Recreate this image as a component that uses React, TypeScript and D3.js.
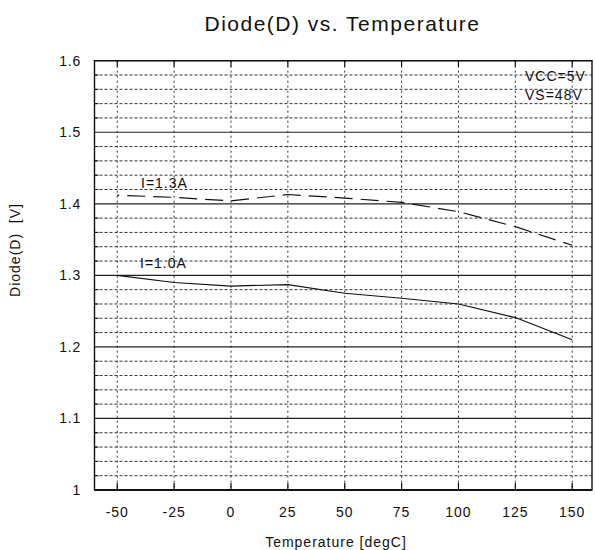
import React from "react";
import * as d3 from "d3";

const temps = [-50, -25, 0, 25, 50, 75, 100, 125, 150];
const seriesI10 = [1.3, 1.29, 1.285, 1.287, 1.275, 1.268, 1.26, 1.241, 1.21];
const seriesI13 = [1.412, 1.409, 1.404, 1.413, 1.408, 1.402, 1.389, 1.368, 1.342];
const xTicks = [-50, -25, 0, 25, 50, 75, 100, 125, 150];
const yMajor = [1, 1.1, 1.2, 1.3, 1.4, 1.5, 1.6];
const yTickLabels = ["1", "1.1", "1.2", "1.3", "1.4", "1.5", "1.6"];
const yMinor = d3.range(0, 31).map((i) => +(1 + i * 0.02).toFixed(2)).filter((v) => Math.abs(v * 10 - Math.round(v * 10)) > 1e-6);

const W = 595, H = 550;
const L = 94.5, R = 592, T = 60.7, B = 490;
const FONT = "'Liberation Sans', Arial, Helvetica, sans-serif";

export default function App() {
  const x = d3.scaleLinear().domain([-60, 158.7]).range([L, R]);
  const y = d3.scaleLinear().domain([1.0, 1.6]).range([B, T]);
  const line = d3.line<number>().x((_, i) => x(temps[i])).y((d) => y(d));

  return (
    <svg width={W} height={H} style={{ position: "absolute", left: 0, top: 0, background: "#fff" }} fontFamily={FONT}>
      <rect x={0} y={0} width={W} height={H} fill="#fff" />
      <text x={342.5} y={31} textAnchor="middle" fontSize={21} letterSpacing={1.5} fill="#111">Diode(D) vs. Temperature</text>

      {/* minor horizontal grid */}
      {yMinor.map((v) => (
        <line key={"mn" + v} x1={L} x2={R} y1={y(v)} y2={y(v)} stroke="#333" strokeWidth={1} strokeDasharray="3,2" />
      ))}
      {/* vertical grid */}
      {xTicks.map((t) => (
        <line key={"vg" + t} x1={x(t)} x2={x(t)} y1={T} y2={B} stroke="#333" strokeWidth={1} strokeDasharray="2,3" />
      ))}
      {/* major horizontal grid */}
      {yMajor.map((v) => (
        <line key={"mj" + v} x1={L} x2={R} y1={y(v)} y2={y(v)} stroke="#222" strokeWidth={1.2} />
      ))}
      {/* tick marks */}
      {xTicks.map((t) => (
        <g key={"tk" + t}>
          <line x1={x(t)} x2={x(t)} y1={T} y2={T + 6} stroke="#111" strokeWidth={1.2} />
          <line x1={x(t)} x2={x(t)} y1={B} y2={B - 7} stroke="#111" strokeWidth={1.2} />
        </g>
      ))}
      {yMinor.map((v) => (
        <line key={"ltk" + v} x1={L} x2={L + 4} y1={y(v)} y2={y(v)} stroke="#111" strokeWidth={1} />
      ))}
      {/* frame */}
      <rect x={L} y={T} width={R - L} height={B - T} fill="none" stroke="#111" strokeWidth={1.4} />
      <line x1={L} x2={R} y1={B} y2={B} stroke="#111" strokeWidth={2} />

      {/* data */}
      <path d={line(seriesI10) || ""} fill="none" stroke="#111" strokeWidth={1.2} />
      <path d={line(seriesI13) || ""} fill="none" stroke="#111" strokeWidth={1.2} strokeDasharray="18,8" strokeDashoffset={-10} />

      {/* annotations */}
      <text x={141} y={188} fontSize={14} letterSpacing={1} fill="#111">I=1.3A</text>
      <text x={140} y={268} fontSize={14} letterSpacing={1} fill="#111">I=1.0A</text>
      <text x={525} y={80.5} fontSize={14} letterSpacing={1} fill="#111">VCC=5V</text>
      <text x={525} y={100} fontSize={14} letterSpacing={1} fill="#111">VS=48V</text>

      {/* y tick labels */}
      {yMajor.map((v, i) => (
        <text key={"yl" + v} x={81} y={y(v)} dy="0.35em" textAnchor="end" fontSize={14} letterSpacing={0.8} fill="#111">{yTickLabels[i]}</text>
      ))}
      {/* x tick labels */}
      {xTicks.map((t) => (
        <text key={"xl" + t} x={x(t)} y={517} textAnchor="middle" fontSize={14} letterSpacing={1} fill="#111">{t}</text>
      ))}
      <text x={336} y={547} textAnchor="middle" fontSize={14} letterSpacing={1} fill="#111">Temperature [degC]</text>
      <text transform={`translate(20,250) rotate(-90)`} textAnchor="middle" fontSize={14} letterSpacing={1} fill="#111" style={{ whiteSpace: "pre" }}>{"Diode(D)  [V]"}</text>
    </svg>
  );
}
